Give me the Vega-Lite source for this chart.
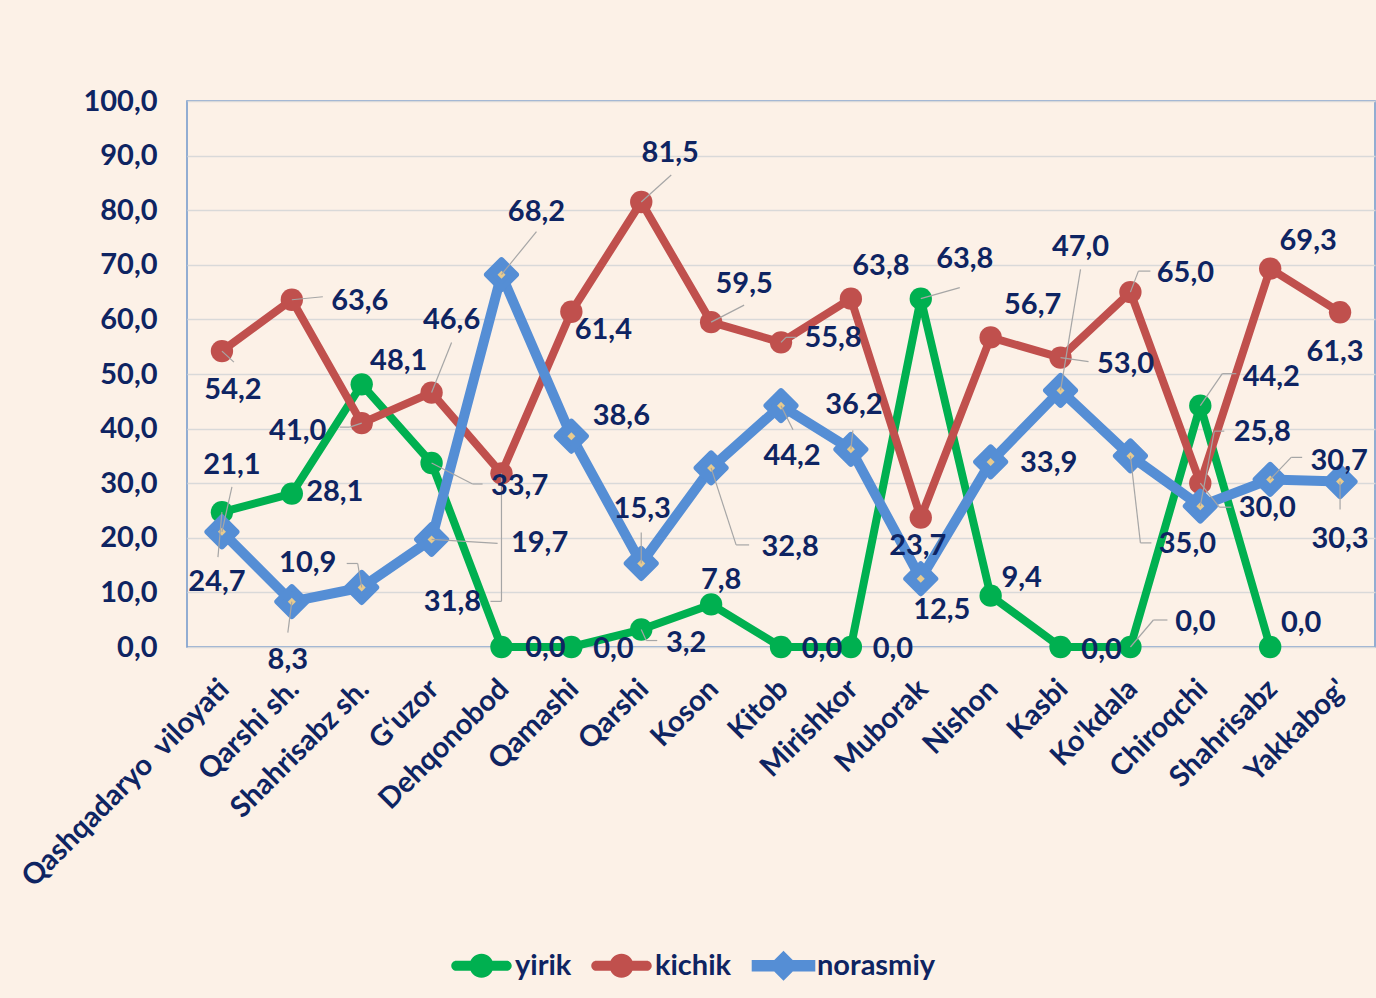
{
  "$schema": "https://vega.github.io/schema/vega-lite/v6.json",
  "width": 1188,
  "height": 546,
  "autosize": "none",
  "padding": {"left": 187, "top": 101, "right": 1, "bottom": 351},
  "background": "#FCF1E7",
  "config": {
    "locale": {"number": {"decimal": ",", "thousands": " ", "grouping": [3], "currency": ["", ""]}},
    "view": {"stroke": "#6F96CC", "strokeWidth": 1.5},
    "font": "Lato",
    "axis": {"labelFont": "Lato", "labelFontWeight": "bold", "labelFontSize": 29, "labelColor": "#0E2462", "ticks": false, "domain": false, "title": null}
  },
  "data": {"values": [
    {"region": "Qashqadaryo \u00a0viloyati", "series": "yirik", "value": 24.7},
    {"region": "Qashqadaryo \u00a0viloyati", "series": "kichik", "value": 54.2},
    {"region": "Qashqadaryo \u00a0viloyati", "series": "norasmiy", "value": 21.1},
    {"region": "Qarshi sh.", "series": "yirik", "value": 28.1},
    {"region": "Qarshi sh.", "series": "kichik", "value": 63.6},
    {"region": "Qarshi sh.", "series": "norasmiy", "value": 8.3},
    {"region": "Shahrisabz sh.", "series": "yirik", "value": 48.1},
    {"region": "Shahrisabz sh.", "series": "kichik", "value": 41.0},
    {"region": "Shahrisabz sh.", "series": "norasmiy", "value": 10.9},
    {"region": "G‘uzor", "series": "yirik", "value": 33.7},
    {"region": "G‘uzor", "series": "kichik", "value": 46.6},
    {"region": "G‘uzor", "series": "norasmiy", "value": 19.7},
    {"region": "Dehqonobod", "series": "yirik", "value": 0.0},
    {"region": "Dehqonobod", "series": "kichik", "value": 31.8},
    {"region": "Dehqonobod", "series": "norasmiy", "value": 68.2},
    {"region": "Qamashi", "series": "yirik", "value": 0.0},
    {"region": "Qamashi", "series": "kichik", "value": 61.4},
    {"region": "Qamashi", "series": "norasmiy", "value": 38.6},
    {"region": "Qarshi", "series": "yirik", "value": 3.2},
    {"region": "Qarshi", "series": "kichik", "value": 81.5},
    {"region": "Qarshi", "series": "norasmiy", "value": 15.3},
    {"region": "Koson", "series": "yirik", "value": 7.8},
    {"region": "Koson", "series": "kichik", "value": 59.5},
    {"region": "Koson", "series": "norasmiy", "value": 32.8},
    {"region": "Kitob", "series": "yirik", "value": 0.0},
    {"region": "Kitob", "series": "kichik", "value": 55.8},
    {"region": "Kitob", "series": "norasmiy", "value": 44.2},
    {"region": "Mirishkor", "series": "yirik", "value": 0.0},
    {"region": "Mirishkor", "series": "kichik", "value": 63.8},
    {"region": "Mirishkor", "series": "norasmiy", "value": 36.2},
    {"region": "Muborak", "series": "yirik", "value": 63.8},
    {"region": "Muborak", "series": "kichik", "value": 23.7},
    {"region": "Muborak", "series": "norasmiy", "value": 12.5},
    {"region": "Nishon", "series": "yirik", "value": 9.4},
    {"region": "Nishon", "series": "kichik", "value": 56.7},
    {"region": "Nishon", "series": "norasmiy", "value": 33.9},
    {"region": "Kasbi", "series": "yirik", "value": 0.0},
    {"region": "Kasbi", "series": "kichik", "value": 53.0},
    {"region": "Kasbi", "series": "norasmiy", "value": 47.0},
    {"region": "Ko'kdala", "series": "yirik", "value": 0.0},
    {"region": "Ko'kdala", "series": "kichik", "value": 65.0},
    {"region": "Ko'kdala", "series": "norasmiy", "value": 35.0},
    {"region": "Chiroqchi", "series": "yirik", "value": 44.2},
    {"region": "Chiroqchi", "series": "kichik", "value": 30.0},
    {"region": "Chiroqchi", "series": "norasmiy", "value": 25.8},
    {"region": "Shahrisabz", "series": "yirik", "value": 0.0},
    {"region": "Shahrisabz", "series": "kichik", "value": 69.3},
    {"region": "Shahrisabz", "series": "norasmiy", "value": 30.7},
    {"region": "Yakkabog'", "series": "kichik", "value": 61.3},
    {"region": "Yakkabog'", "series": "norasmiy", "value": 30.3}
  ]},
  "encoding": {
    "x": {"field": "region", "type": "nominal", "sort": null,
      "scale": {"type": "point", "padding": 0.5},
      "axis": {"labelAngle": -45, "labelAlign": "right", "labelBaseline": "middle", "labelPadding": 37, "labelOffset": 2, "grid": false, "labelLimit": 500, "labelOverlap": false, "labelBound": false}},
    "y": {"field": "value", "type": "quantitative",
      "scale": {"domain": [0, 100], "nice": false, "zero": true},
      "axis": {"values": [0, 10, 20, 30, 40, 50, 60, 70, 80, 90, 100], "format": ".1f", "labelPadding": 30, "grid": true, "gridColor": "#D9D9D9", "gridWidth": 1.5}}
  },
  "layer": [
    {"transform": [{"filter": "datum.series == 'yirik'"}],
     "mark": {"type": "line", "color": "#00B050", "strokeWidth": 8, "strokeCap": "round", "strokeJoin": "round"}},
    {"transform": [{"filter": "datum.series == 'yirik'"}],
     "mark": {"type": "point", "shape": "circle", "filled": true, "color": "#00B050", "size": 500, "opacity": 1}},
    {"transform": [{"filter": "datum.series == 'kichik'"}],
     "mark": {"type": "line", "color": "#C0504D", "strokeWidth": 8, "strokeCap": "round", "strokeJoin": "round"}},
    {"transform": [{"filter": "datum.series == 'kichik'"}],
     "mark": {"type": "point", "shape": "circle", "filled": true, "color": "#C0504D", "size": 500, "opacity": 1}},
    {"transform": [{"filter": "datum.series == 'norasmiy'"}],
     "mark": {"type": "line", "color": "#558ED5", "strokeWidth": 10, "strokeCap": "round", "strokeJoin": "round"}},
    {"transform": [{"filter": "datum.series == 'norasmiy'"}],
     "mark": {"type": "point", "shape": "diamond", "filled": true, "fill": "#558ED5", "stroke": "#558ED5", "strokeWidth": 6, "strokeJoin": "round", "size": 841, "opacity": 1}},
    {"transform": [{"filter": "datum.series == 'norasmiy'"}],
     "mark": {"type": "point", "shape": "diamond", "filled": true, "color": "#E8CB8E", "size": 64, "opacity": 1}},
    {"mark": {"type": "rule", "color": "#A6A6A6", "strokeWidth": 1.2,
       "x2Offset": {"expr": "(datum.series=='yirik' ? [-4,0,0,41,0,0,5,0,0,0,39,0,0,23,22,0,0] : datum.series=='kichik' ? [12,31,-12,20,0,0,30,33,5,0,0,0,28,8,19,0,0] : [10,-4,-4,66,35,0,0,25,12,2,0,0,20,10,14,21,0])[indexof(domain('x'), datum.region)]"},
       "y2Offset": {"expr": "(datum.series=='yirik' ? [45,0,0,21,0,0,11,0,0,0,-11,0,0,-27,-32,0,0] : datum.series=='kichik' ? [11,-3,4,-50,128,0,-27,-17,-5,0,0,0,4,-21,24,0,0] : [-45,31,-24,4,-43,0,-31,77,24,-19,0,0,-121,87,-75,-22,28])[indexof(domain('x'), datum.region)]"}},
     "encoding": {"x2": {"field": "region"}, "y2": {"field": "value"}}},
    {"mark": {"type": "rule", "color": "#A6A6A6", "strokeWidth": 1.2,
       "xOffset": {"expr": "(datum.series=='yirik' ? [-4,0,0,41,0,0,5,0,0,0,39,0,0,23,22,0,0] : datum.series=='kichik' ? [12,31,-12,20,0,0,30,33,5,0,0,0,28,8,19,0,0] : [10,-4,-4,66,35,0,0,25,12,2,0,0,20,10,14,21,0])[indexof(domain('x'), datum.region)]"},
       "yOffset": {"expr": "(datum.series=='yirik' ? [45,0,0,21,0,0,11,0,0,0,-11,0,0,-27,-32,0,0] : datum.series=='kichik' ? [11,-3,4,-50,128,0,-27,-17,-5,0,0,0,4,-21,24,0,0] : [-45,31,-24,4,-43,0,-31,77,24,-19,0,0,-121,87,-75,-22,28])[indexof(domain('x'), datum.region)]"},
       "x2Offset": {"expr": "(datum.series=='yirik' ? [-4,0,0,51,0,0,16,0,0,0,39,0,0,37,36,0,0] : datum.series=='kichik' ? [12,31,-22,20,-11,0,30,33,15,0,0,0,28,20,31,0,0] : [10,-4,-15,66,35,0,0,38,12,2,0,0,20,21,24,32,0])[indexof(domain('x'), datum.region)]"},
       "y2Offset": {"expr": "(datum.series=='yirik' ? [45,0,0,21,0,0,11,0,0,0,-11,0,0,-27,-32,0,0] : datum.series=='kichik' ? [11,-3,4,-50,128,0,-27,-17,-5,0,0,0,4,-21,24,0,0] : [-45,31,-24,4,-43,0,-31,77,24,-19,0,0,-121,87,-75,-22,28])[indexof(domain('x'), datum.region)]"}},
     "encoding": {"x2": {"field": "region"}, "y2": {"field": "value"}}},
    {"mark": {"type": "text", "font": "Lato", "fontWeight": "bold", "fontSize": 29, "color": "#0E2462", "align": "center", "baseline": "middle",
       "dx": {"expr": "(datum.series=='yirik' ? [-5,43,37,88,44,42,45,10,41,42,44,31,41,65,71,31,0] : datum.series=='kichik' ? [11,68,-64,20,-49,32,29,33,52,30,-3,42,65,55,67,38,-5] : [10,-4,-54,108,35,50,1,79,11,3,21,58,20,57,62,69,0])[indexof(domain('x'), datum.region)]"},
       "dy": {"expr": "(datum.series=='yirik' ? [70,-2,-23,23,1,2,13,-24,2,2,-40,-18,3,-25,-29,-24,0] : datum.series=='kichik' ? [39,1,8,-73,129,18,-49,-38,-4,-33,28,-32,6,-19,25,-28,40] : [-67,58,-24,4,-63,-20,-54,79,50,-44,31,1,-143,88,-74,-18,57])[indexof(domain('x'), datum.region)]"}},
     "encoding": {"text": {"field": "value", "type": "quantitative", "format": ".1f"}}},
    {"transform": [{"filter": "false"}],
     "mark": {"type": "point", "filled": true},
     "encoding": {
       "color": {"field": "series", "type": "nominal",
         "scale": {"domain": ["yirik", "kichik", "norasmiy"], "range": ["#00B050", "#C0504D", "#558ED5"]},
         "legend": {"orient": "none", "legendX": 280, "legendY": 850, "direction": "horizontal", "title": null, "labelFont": "Lato", "labelFontSize": 29, "labelFontWeight": "bold", "labelColor": "#0E2462", "symbolSize": 576, "symbolStrokeWidth": 0, "symbolOpacity": 1, "labelOffset": 19, "columnPadding": 19, "padding": 0}},
       "shape": {"field": "series", "type": "nominal",
         "scale": {"domain": ["yirik", "kichik", "norasmiy"], "range": [
           "M-2.1,-0.42 H2.1 A0.42,0.42 0 0,1 2.1,0.42 H-2.1 A0.42,0.42 0 0,1 -2.1,-0.42 Z M-1,0 A1,1 0 1,1 1,0 A1,1 0 1,1 -1,0 Z",
           "M-2.1,-0.42 H2.1 A0.42,0.42 0 0,1 2.1,0.42 H-2.1 A0.42,0.42 0 0,1 -2.1,-0.42 Z M-1,0 A1,1 0 1,1 1,0 A1,1 0 1,1 -1,0 Z",
           "M-2.65,-0.48 H2.65 V0.48 H-2.65 Z M0,-1.25 L1.25,0 L0,1.25 L-1.25,0 Z"]},
         "legend": {"orient": "none", "legendX": 280, "legendY": 850, "direction": "horizontal", "title": null, "labelFont": "Lato", "labelFontSize": 29, "labelFontWeight": "bold", "labelColor": "#0E2462", "symbolSize": 576, "symbolStrokeWidth": 0, "symbolOpacity": 1, "labelOffset": 19, "columnPadding": 19, "padding": 0}}
     }}
  ]
}
